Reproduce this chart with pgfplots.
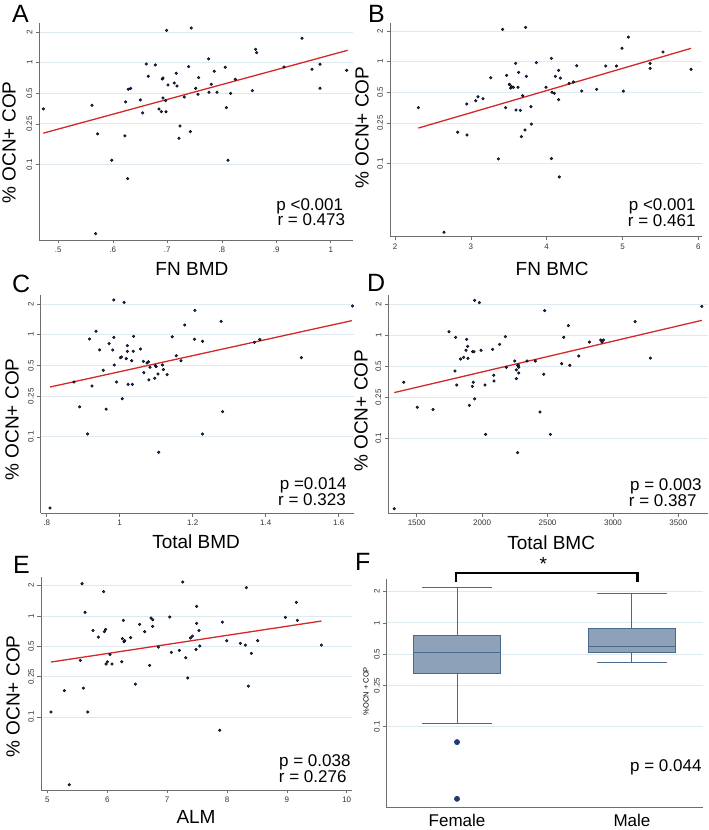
\documentclass[border=0pt]{standalone}
\usepackage{fontspec}
\setmainfont{Liberation Sans}
\usepackage{pgfplots}
\pgfplotsset{compat=1.18}
\usepgfplotslibrary{statistics}
\definecolor{dotc}{RGB}{28,48,110}
\definecolor{regc}{RGB}{214,39,40}
\definecolor{gridc}{RGB}{222,234,240}
\definecolor{axc}{RGB}{110,110,110}
\definecolor{boxf}{RGB}{141,161,184}
\definecolor{boxd}{RGB}{74,106,140}
\definecolor{outc}{RGB}{30,60,110}
\newcommand{\tfont}{\fontsize{8}{9}\selectfont}
\newcommand{\lfont}{\fontsize{19}{21}\selectfont}
\newcommand{\pfont}{\fontsize{17}{18}\selectfont}
\newcommand{\Lfont}{\fontsize{25}{27}\selectfont}
\tikzset{ptxt/.style={anchor=base east, font=\pfont, inner sep=0pt}}
\pgfplotsset{
 mypanel/.style={
  scale only axis,
  axis lines=left, axis line style={-, draw=axc, line width=0.6pt},
  tick align=outside, major tick length=3.5pt, tick style={draw=axc, line width=0.6pt},
  ytick={0.1,0.25,0.5,1,2}, yticklabels={0.1,0.25,0.5,1,2},
  yminorticks=false, xminorticks=false,
  yticklabel style={rotate=90, anchor=south, font=\tfont, text=black!80},
  xticklabel style={font=\tfont, text=black!80},
  ymajorgrids, grid style={draw=gridc, line width=0.9pt},
  ylabel={\% OCN+ COP},
  label style={font=\lfont},
  anchor=south west,
 },
 scat/.style={only marks, mark=*, mark size=1.35pt, mark options={fill=dotc, draw=none}},
 reg/.style={no marks, draw=regc, line width=1.3pt},
}
\begin{document}
\begin{tikzpicture}
\useasboundingbox (0,0) rectangle (709pt,830pt);
% Panel A
\begin{axis}[ymode=log, mypanel, at={(39.3pt,590pt)}, width=314pt, height=216.7pt,
  xmin=0.4651, xmax=1.0413, ymin=0.01813, ymax=2.434,
  xtick={0.5,0.6,0.7,0.8,0.9,1}, xticklabels={.5,.6,.7,.8,.9,1},
  xlabel={FN BMD},
  xlabel style={at={(axis description cs:0.486,-0.1315)}, anchor=center},
  ylabel style={at={(axis description cs:-0.0965,0.45)}, anchor=center}]
\addplot[scat] coordinates {(0.4725,0.351) (0.5618,0.381) (0.5722,0.200) (0.5979,0.110) (0.6223,0.191) (0.6235,0.411) (0.6272,0.0727) (0.6284,0.547) (0.6327,0.560) (0.5685,0.0209) (0.6505,0.430) (0.6547,0.321) (0.6615,0.970) (0.6651,0.734) (0.6780,0.949) (0.6847,0.351) (0.6890,0.330) (0.6908,0.691) (0.6920,0.707) (0.6920,0.450) (0.6969,0.424) (0.6976,0.330) (0.6988,2.077) (0.7012,0.604) (0.7128,0.632) (0.7165,0.786) (0.7177,0.590) (0.7214,0.181) (0.7232,0.239) (0.7422,0.210) (0.7312,0.460) (0.7391,0.914) (0.7440,2.19) (0.7520,0.560) (0.7563,0.489) (0.7575,0.713) (0.7758,1.087) (0.7765,0.512) (0.7807,0.613) (0.7862,0.822) (0.7911,0.512) (0.8064,0.900) (0.8083,0.362) (0.8113,0.110) (0.8162,0.500) (0.8248,0.686) (0.8560,0.531) (0.8621,1.352) (0.8639,1.254) (0.9141,0.907) (0.9471,1.733) (0.9654,0.860) (0.9801,0.963) (0.9801,0.560) (1.0291,0.841)};
\addplot[reg] coordinates {(0.4725,0.203) (1.0309,1.321)};
\node[ptxt, xshift=-10pt, yshift=29.3pt] at (rel axis cs:1,0) {p <0.001};
\node[ptxt, xshift=-8pt, yshift=14pt] at (rel axis cs:1,0) {r = 0.473};
\end{axis}
% Panel B
\begin{axis}[ymode=log, mypanel, at={(390pt,593.3pt)}, width=311.7pt, height=214pt,
  xmin=1.934, xmax=6.044, ymin=0.01913, ymax=2.415,
  xtick={2,3,4,5,6}, xticklabels={2,3,4,5,6},
  xlabel={FN BMC},
  xlabel style={at={(axis description cs:0.52,-0.1486)}, anchor=center},
  ylabel style={at={(axis description cs:-0.0898,0.51)}, anchor=center}]
\addplot[scat] coordinates {(2.308,0.354) (2.646,0.0212) (2.826,0.203) (2.949,0.191) (2.945,0.384) (3.064,0.414) (3.095,0.453) (3.160,0.433) (3.262,0.696) (3.363,0.111) (3.420,2.077) (3.473,0.734) (3.459,0.354) (3.508,0.599) (3.512,0.596) (3.525,0.551) (3.538,0.568) (3.560,0.560) (3.591,0.963) (3.596,0.335) (3.622,0.560) (3.631,0.786) (3.653,0.333) (3.666,0.184) (3.684,0.464) (3.714,0.213) (3.723,2.17) (3.732,0.718) (3.793,0.362) (3.798,0.244) (3.864,0.978) (3.991,0.560) (4.062,1.078) (4.062,0.112) (4.070,0.5) (4.101,0.49) (4.114,0.718) (4.158,0.822) (4.158,0.424) (4.167,0.0738) (4.180,0.691) (4.295,0.613) (4.352,0.632) (4.396,0.914) (4.462,0.515) (4.659,0.535) (4.778,0.907) (4.919,0.907) (4.993,1.352) (5.011,0.515) (5.077,1.746) (5.363,0.963) (5.363,0.860) (5.534,1.244) (5.903,0.841)};
\addplot[reg] coordinates {(2.308,0.223) (5.903,1.352)};
\node[ptxt, xshift=-6pt, yshift=26.4pt] at (rel axis cs:1,0) {p <0.001};
\node[ptxt, xshift=-6pt, yshift=10pt] at (rel axis cs:1,0) {r = 0.461};
\end{axis}
% Panel C
\begin{axis}[ymode=log, mypanel, at={(40.7pt,316.7pt)}, width=313.3pt, height=218.3pt,
  xmin=0.7836, xmax=1.642, ymin=0.0179, ymax=2.45,
  xtick={0.8,1,1.2,1.4,1.6}, xticklabels={.8,1,1.2,1.4,1.6},
  xlabel={Total BMD},
  xlabel style={at={(axis description cs:0.496,-0.1315)}, anchor=center},
  ylabel style={at={(axis description cs:-0.0916,0.43)}, anchor=center}]
\addplot[scat] coordinates {(0.809,0.0202) (0.875,0.345) (0.890,0.197) (0.912,0.107) (0.917,0.909) (0.924,0.315) (0.935,1.081) (0.945,0.710) (0.963,0.187) (0.955,0.449) (0.971,0.818) (0.981,0.710) (0.984,0.944) (0.984,2.19) (0.985,0.506) (0.991,0.345) (1.002,0.597) (1.005,0.606) (1.007,0.237) (1.012,2.076) (1.018,0.584) (1.021,0.689) (1.021,0.783) (1.023,0.327) (1.033,0.558) (1.035,0.327) (1.037,0.689) (1.038,0.965) (1.057,0.726) (1.065,0.549) (1.066,0.426) (1.075,0.529) (1.079,0.545) (1.080,0.361) (1.083,0.481) (1.096,0.375) (1.098,0.499) (1.100,0.488) (1.105,0.413) (1.107,0.0708) (1.117,0.506) (1.120,0.456) (1.130,0.407) (1.144,0.958) (1.155,0.624) (1.168,0.558) (1.178,1.246) (1.205,0.903) (1.206,1.734) (1.227,0.862) (1.227,0.107) (1.278,1.353) (1.282,0.177) (1.369,0.842) (1.384,0.898) (1.498,0.597) (1.638,1.912)};
\addplot[reg] coordinates {(0.809,0.308) (1.636,1.374)};
\node[ptxt, xshift=-7.3pt, yshift=23.3pt] at (rel axis cs:1,0) {p =0.014};
\node[ptxt, xshift=-8pt, yshift=7.3pt] at (rel axis cs:1,0) {r = 0.323};
\end{axis}
% Panel D
\begin{axis}[ymode=log, mypanel, at={(388.3pt,316.7pt)}, width=319.4pt, height=218.3pt,
  xmin=1283.4, xmax=3724, ymin=0.0187, ymax=2.464,
  xtick={1500,2000,2500,3000,3500}, xticklabels={1500,2000,2500,3000,3500},
  xlabel={Total BMC},
  xlabel style={at={(axis description cs:0.51,-0.1328)}, anchor=center},
  ylabel style={at={(axis description cs:-0.0855,0.47)}, anchor=center}]
\addplot[scat] coordinates {(1329,0.0207) (1401,0.350) (1505,0.200) (1625,0.190) (1747,1.085) (1793,0.451) (1798,0.956) (1806,0.329) (1836,0.589) (1859,0.611) (1877,0.715) (1882,0.914) (1890,0.782) (1892,0.598) (1903,0.209) (1926,0.320) (1928,0.694) (1938,0.694) (1933,0.350) (1943,0.241) (1943,2.19) (1979,2.075) (1992,0.715) (2022,0.329) (2027,0.109) (2081,0.731) (2089,0.409) (2091,0.360) (2134,0.818) (2178,0.971) (2185,0.489) (2249,0.563) (2262,0.461) (2262,0.379) (2272,0.0726) (2272,0.511) (2277,0.514) (2280,0.489) (2280,0.430) (2343,0.563) (2407,0.563) (2443,0.180) (2471,0.418) (2478,1.741) (2522,0.109) (2608,0.530) (2624,0.956) (2659,1.241) (2670,0.511) (2738,0.630) (2820,0.861) (2907,0.900) (2917,0.861) (2927,0.900) (3169,1.357) (3286,0.602) (3679,1.913)};
\addplot[reg] coordinates {(1329,0.278) (3679,1.398)};
\node[ptxt, xshift=-6pt, yshift=22.6pt] at (rel axis cs:1,0) {p = 0.003};
\node[ptxt, xshift=-11pt, yshift=6.6pt] at (rel axis cs:1,0) {r = 0.387};
\end{axis}
% Panel E
\begin{axis}[ymode=log, mypanel, at={(41pt,40pt)}, width=310.7pt, height=212.7pt,
  xmin=4.894, xmax=10.083, ymin=0.0189, ymax=2.419,
  xtick={5,6,7,8,9,10}, xticklabels={5,6,7,8,9,10},
  xlabel={ALM},
  xlabel style={at={(axis description cs:0.499,-0.1255)}, anchor=center},
  ylabel style={at={(axis description cs:-0.0901,0.44)}, anchor=center}]
\addplot[scat] coordinates {(5.061,0.112) (5.284,0.182) (5.367,0.0213) (5.551,0.363) (5.579,2.093) (5.601,0.193) (5.629,1.087) (5.674,0.112) (5.763,0.720) (5.852,0.619) (5.941,1.744) (5.952,0.700) (5.974,0.737) (5.980,0.334) (6.002,0.352) (6.047,0.416) (6.080,0.334) (6.242,0.352) (6.253,0.596) (6.269,0.906) (6.281,0.557) (6.292,0.570) (6.392,0.611) (6.470,0.211) (6.542,0.826) (6.626,0.700) (6.709,0.324) (6.732,0.955) (6.759,0.919) (6.759,0.789) (6.854,0.492) (7.043,0.978) (7.071,0.436) (7.205,0.456) (7.261,2.175) (7.311,0.386) (7.344,0.243) (7.389,0.606) (7.422,0.632) (7.483,0.467) (7.494,1.247) (7.494,0.846) (7.533,0.720) (7.545,0.504) (7.879,0.0738) (7.923,0.870) (7.996,0.570) (8.224,0.535) (8.307,0.515) (8.324,1.910) (8.357,0.202) (8.408,0.426) (8.513,0.570) (8.976,0.970) (9.159,1.368) (9.176,0.906) (9.577,0.515)};
\addplot[reg] coordinates {(5.061,0.350) (9.577,0.892)};
\node[ptxt, xshift=-1pt, yshift=24pt] at (rel axis cs:1,0) {p = 0.038};
\node[ptxt, xshift=-5pt, yshift=7.7pt] at (rel axis cs:1,0) {r = 0.276};
\end{axis}
% Panel F
\begin{axis}[ymode=log, mypanel, at={(386.7pt,22.3pt)}, width=316.6pt, height=228.4pt,
  xmin=0.598, xmax=2.408, ymin=0.0166, ymax=2.63, clip=false,
  xtick={1,2}, xticklabels={Female,Male},
  xticklabel style={font=\fontsize{17}{18}\selectfont, text=black, anchor=north, inner sep=0pt, yshift=-3pt},
  major x tick style={draw=none},
  ylabel={\%OCN + COP},
  ylabel style={at={(axis description cs:-0.0654,0.51)}, anchor=center, font=\fontsize{7.5}{8}\selectfont},
  boxplot/draw direction=y,
  boxplot/every box/.style={draw=boxd, fill=boxf, line width=1pt},
  boxplot/every whisker/.style={draw=boxd, line width=1pt},
  boxplot/every median/.style={draw=boxd, line width=1pt}]
\addplot[boxplot prepared={lower whisker=0.1085, lower quartile=0.326, median=0.521, upper quartile=0.748, upper whisker=2.20, draw position=1, box extend=0.497},
  draw=boxd, line width=1pt, mark=*, mark size=2.4pt, mark options={fill=outc, draw=outc}]
  table[row sep=\\, y index=0] {y\\0.0711\\0.0202\\};
\addplot[boxplot prepared={lower whisker=0.420, lower quartile=0.513, median=0.599, upper quartile=0.893, upper whisker=1.93, draw position=2, box extend=0.497},
  draw=boxd, line width=1pt] coordinates {};
\draw[line width=2.1pt] (axis cs:0.992,2.46) -- (axis cs:0.992,3.05) -- (axis cs:2.032,3.05) -- (axis cs:2.032,2.46);
\node[font=\fontsize{19}{20}\selectfont] at (axis cs:1.493,3.7) {*};
\node[ptxt, xshift=-1.6pt, yshift=36pt] at (rel axis cs:1,0) {p = 0.044};
\end{axis}
% Panel letters
\node[anchor=base west, font=\Lfont, inner sep=0pt] at (12pt,807pt) {A};
\node[anchor=base west, font=\Lfont, inner sep=0pt] at (368pt,807pt) {B};
\node[anchor=base west, font=\Lfont, inner sep=0pt] at (12pt,537pt) {C};
\node[anchor=base west, font=\Lfont, inner sep=0pt] at (367pt,538pt) {D};
\node[anchor=base west, font=\Lfont, inner sep=0pt] at (13pt,256pt) {E};
\node[anchor=base west, font=\Lfont, inner sep=0pt] at (355pt,259pt) {F};
\end{tikzpicture}
\end{document}
